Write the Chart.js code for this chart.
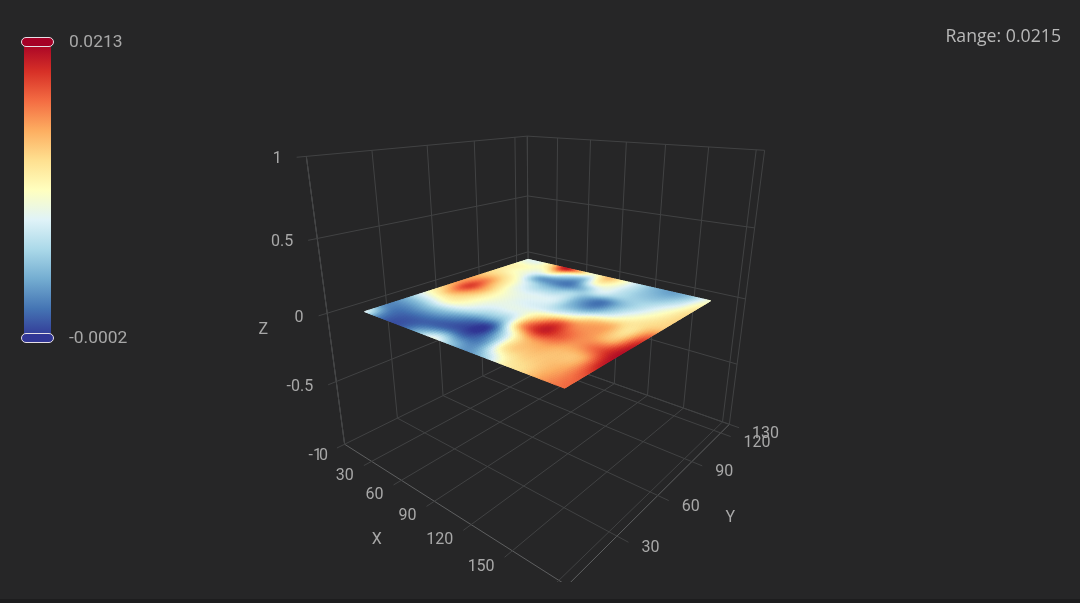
<!DOCTYPE html>
<html>
<head>
<meta charset="utf-8">
<title>Surface</title>
<script src="https://cdn.jsdelivr.net/npm/chart.js@4"></script>
<style>
    html, body { margin: 0; padding: 0; background: #262627; }
    canvas { display: block; }
</style>
</head>
<body>
<canvas id="surfaceChart" width="1080" height="603"></canvas>
<script>
/* ===============================
   DATA
================================ */
const xTicks = [0, 30, 60, 90, 120, 150, 180];
const yTicks = [0, 30, 60, 90, 120, 130];
const zTicks = [-1, -0.5, 0, 0.5, 1];
const xLabels = ["0", "30", "60", "90", "120", "150"];
const yLabels = ["30", "60", "90", "120", "130"];
const zLabels = ["-1", "-0.5", "0", "0.5", "1"];

// surface nodes, value unit is 1e-4
const surfaceX = [0, 13.5, 27, 40.5, 54, 67.5, 81, 94.5, 108, 121.5, 135, 148.5, 162];
const surfaceY = [18, 29.2, 40.4, 51.6, 62.8, 74, 85.2, 96.4, 107.6, 118.8, 130];
const surfaceZ = [
    [88, 30, 8, 14, 50, 93, 58, 32, 58, 110, 128, 155, 170],
    [30, 20, 16, 14, 12, 14, 10, 36, 118, 133, 137, 150, 178],
    [41, 45, 50, 45, 30, 12, 3, 72, 136, 150, 141, 145, 200],
    [88, 97, 106, 92, 72, 58, 66, 157, 197, 178, 158, 175, 207],
    [127, 149, 131, 106, 90, 88, 93, 136, 180, 162, 154, 140, 200],
    [153, 186, 149, 110, 93, 84, 80, 75, 97, 136, 146, 123, 175],
    [149, 165, 131, 97, 84, 84, 80, 45, 35, 70, 106, 123, 136],
    [131, 131, 110, 80, 58, 56, 67, 40, 20, 50, 80, 110, 131],
    [118, 106, 88, 40, 28, 22, 50, 80, 63, 58, 67, 95, 127],
    [110, 106, 97, 116, 66, 45, 106, 95, 69, 52, 50, 73, 116],
    [88, 90, 131, 202, 149, 99, 140, 106, 69, 45, 37, 56, 99]
];
// the sheet floats a little under the z = 0 grid line
const surfaceLevel = -0.07;

const valueMin = -0.0002;
const valueMax = 0.0213;
const rangeText = "Range: 0.0215";
const colorStops = ["#313695", "#4575b4", "#74add1", "#abd9e9", "#e0f3f8", "#ffffbf",
    "#fee090", "#fdae61", "#f46d43", "#d73027", "#a50026"];

/* ===============================
   3D BOX -> SCREEN
================================ */
const xMax = 185, yMax = 130;
// box corners as seen in the picture: [X, Y, Z, screenX, screenY]
const anchors = [
    [0, 0, -1, 345, 445],
    [0, 0, 1, 306, 156],
    [0, yMax, 1, 528, 136],
    [0, yMax, 0, 528, 253],
    [xMax, yMax, 1, 764, 150],
    [xMax, yMax, -1, 730, 425],
    [0, yMax, -1, 528, 352],
    [xMax, 0, -1, 567, 585]
];

function solveCamera() {
    const A = [], b = [];
    anchors.forEach(([x, y, z, sx, sy]) => {
        const u = [x / xMax, y / yMax, z, 1];
        sx /= 1000; sy /= 1000;
        A.push([...u, 0, 0, 0, 0, -sx * u[0], -sx * u[1], -sx * u[2]]); b.push(sx);
        A.push([0, 0, 0, 0, ...u, -sy * u[0], -sy * u[1], -sy * u[2]]); b.push(sy);
    });
    // normal equations
    const M = [];
    for (let i = 0; i < 11; i++) {
        M.push(new Array(12).fill(0));
        for (let j = 0; j < 11; j++) A.forEach(r => { M[i][j] += r[i] * r[j]; });
        A.forEach((r, k) => { M[i][11] += r[i] * b[k]; });
    }
    for (let i = 0; i < 11; i++) {
        let p = i;
        for (let k = i + 1; k < 11; k++) if (Math.abs(M[k][i]) > Math.abs(M[p][i])) p = k;
        [M[i], M[p]] = [M[p], M[i]];
        for (let k = 0; k < 11; k++) {
            if (k === i) continue;
            const f = M[k][i] / M[i][i];
            for (let j = i; j < 12; j++) M[k][j] -= f * M[i][j];
        }
    }
    return M.map((r, i) => r[11] / r[i]);
}

const cam = solveCamera();

function project(x, y, z) {
    const u = x / xMax, v = y / yMax;
    const w = cam[8] * u + cam[9] * v + cam[10] * z + 1;
    return {
        x: 1000 * (cam[0] * u + cam[1] * v + cam[2] * z + cam[3]) / w,
        y: 1000 * (cam[4] * u + cam[5] * v + cam[6] * z + cam[7]) / w
    };
}

/* ===============================
   LINES
================================ */
const gridColor = "#414243";
const axisColor = "#5f6061";
const tickX = -4, tickY = 7;
const datasets = [];

function addLine(from, to, color) {
    datasets.push({
        data: [project(...from), project(...to)],
        showLine: true,
        borderColor: color,
        borderWidth: 1,
        pointRadius: 0
    });
}

// floor
xTicks.forEach(x => { if (x > 0) addLine([x, tickX, -1], [x, yMax, -1], gridColor); });
yTicks.forEach(y => { if (y > 0) addLine([0, y, -1], [xMax + tickY, y, -1], gridColor); });
// left wall and right wall
yTicks.forEach(y => addLine([0, y, -1], [0, y, 1], gridColor));
xTicks.forEach(x => addLine([x, yMax, -1], [x, yMax, 1], gridColor));
addLine([xMax, yMax, -1], [xMax, yMax, 1], gridColor);
zTicks.forEach(z => {
    addLine([0, tickX, z], [0, yMax, z], gridColor);
    addLine([0, yMax, z], [xMax, yMax, z], gridColor);
});
// axes
addLine([0, 0, -1], [xMax, 0, -1], axisColor);
addLine([xMax, 0, -1], [xMax, yMax, -1], axisColor);
addLine([0, 0, -1], [0, 0, 1], axisColor);

// surface nodes as a real dataset, the plugin shades between them
const surfaceNodes = [];
surfaceY.forEach((y, j) => surfaceX.forEach((x, i) => {
    surfaceNodes.push(project(x, y, surfaceLevel + surfaceZ[j][i] / 1e4));
}));
datasets.push({ label: "surface", data: surfaceNodes, pointRadius: 0, showLine: false });

/* ===============================
   HELPERS
================================ */
function hexToRgb(hex) {
    return [1, 3, 5].map(i => parseInt(hex.substr(i, 2), 16));
}

const stopsRgb = colorStops.map(hexToRgb);

function colorFor(value) {
    const t = Math.max(0, Math.min(1, (value - valueMin) / (valueMax - valueMin))) * (stopsRgb.length - 1);
    const i = Math.min(Math.floor(t), stopsRgb.length - 2);
    const f = t - i;
    const c = stopsRgb[i].map((a, k) => Math.round(a + (stopsRgb[i + 1][k] - a) * f));
    return `rgb(${c[0]},${c[1]},${c[2]})`;
}

function catmull(a, b, c, d, t) {
    return b + 0.5 * t * (c - a + t * (2 * a - 5 * b + 4 * c - d + t * (3 * (b - c) + d - a)));
}

function sampleSurface(fi, fj) {
    const rows = surfaceZ.length, cols = surfaceX.length;
    const i = Math.min(Math.floor(fi), cols - 2), j = Math.min(Math.floor(fj), rows - 2);
    const at = (c, r) => surfaceZ[Math.max(0, Math.min(rows - 1, r))][Math.max(0, Math.min(cols - 1, c))];
    const line = r => catmull(at(i - 1, r), at(i, r), at(i + 1, r), at(i + 2, r), fi - i);
    return catmull(line(j - 1), line(j), line(j + 1), line(j + 2), fj - j) / 1e4;
}

function nodeCoord(list, f) {
    const i = Math.min(Math.floor(f), list.length - 2);
    return list[i] + (list[i + 1] - list[i]) * (f - i);
}

/* ===============================
   PLUGINS
================================ */
const surfacePlugin = {
    id: "surfacePlugin",
    afterDatasetsDraw(chart) {
        const ctx = chart.ctx, sx = chart.scales.x, sy = chart.scales.y;
        const sub = 10;
        const cols = (surfaceX.length - 1) * sub, rows = (surfaceY.length - 1) * sub;
        const toPixel = (c, r) => {
            const p = project(nodeCoord(surfaceX, c / sub), nodeCoord(surfaceY, r / sub), surfaceLevel);
            return [sx.getPixelForValue(p.x), sy.getPixelForValue(p.y)];
        };
        ctx.save();
        ctx.lineWidth = 1;
        for (let r = 0; r < rows; r++) {
            for (let c = 0; c < cols; c++) {
                const color = colorFor(sampleSurface((c + 0.5) / sub, (r + 0.5) / sub));
                ctx.fillStyle = color;
                ctx.strokeStyle = color;
                ctx.beginPath();
                ctx.moveTo(...toPixel(c, r));
                ctx.lineTo(...toPixel(c + 1, r));
                ctx.lineTo(...toPixel(c + 1, r + 1));
                ctx.lineTo(...toPixel(c, r + 1));
                ctx.closePath();
                ctx.fill();
                ctx.stroke();
            }
        }
        ctx.restore();
    }
};

const labelPlugin = {
    id: "labelPlugin",
    beforeDraw(chart) {
        const ctx = chart.ctx;
        ctx.save();
        ctx.fillStyle = "#262627";
        ctx.fillRect(0, 0, chart.width, chart.height);
        ctx.fillStyle = "#1d1d1e";
        ctx.fillRect(0, 599, chart.width, 4);
        ctx.restore();
    },
    afterDraw(chart) {
        const ctx = chart.ctx;
        ctx.save();
        ctx.font = "16px Roboto";
        ctx.fillStyle = "#a8a8a8";
        ctx.textBaseline = "middle";

        ctx.textAlign = "right";
        xLabels.forEach((t, i) => {
            const p = project(xTicks[i], tickX, -1);
            if (i === 0) ctx.fillText(t, p.x - 9, p.y + 8);
            else ctx.fillText(t, p.x - 10, p.y + 10);
        });
        zLabels.forEach((t, i) => {
            const p = project(0, tickX, zTicks[i]);
            ctx.fillText(t, p.x - 15, p.y + (i === 0 ? 8 : 2));
        });
        ctx.textAlign = "left";
        yLabels.forEach((t, i) => {
            const p = project(xMax + tickY, yTicks[i + 1], -1);
            ctx.fillText(t, p.x + 13, p.y + 6);
        });

        ctx.textAlign = "center";
        const name = (t, p, dx, dy) => ctx.fillText(t, p.x + dx, p.y + dy);
        name("X", project(92, 0, -1), -60, 37);
        name("Y", project(xMax, 62, -1), 70, 25);
        name("Z", project(0, 0, 0), -64, 17);

        // visual map
        const barX = 24, barW = 27, barTop = 42, barBottom = 338;
        const grad = ctx.createLinearGradient(0, barBottom, 0, barTop);
        colorStops.forEach((c, i) => grad.addColorStop(i / (colorStops.length - 1), c));
        ctx.fillStyle = grad;
        ctx.fillRect(barX, barTop, barW, barBottom - barTop);

        [[barTop, colorStops[10]], [barBottom, colorStops[0]]].forEach(([y, fill]) => {
            ctx.beginPath();
            ctx.roundRect(21.5, y - 4.5, 32, 9, 4.5);
            ctx.fillStyle = fill;
            ctx.fill();
            ctx.strokeStyle = "#e6dfe6";
            ctx.lineWidth = 1;
            ctx.stroke();
        });

        ctx.font = "17.4px Roboto";
        ctx.fillStyle = "#a8a8a8";
        ctx.textAlign = "left";
        ctx.fillText(valueMax.toFixed(4), 69, barTop + 1);
        ctx.fillText(valueMin.toFixed(4), 69, barBottom + 1);

        ctx.font = "17.7px 'Open Sans'";
        ctx.fillStyle = "#b8b8b8";
        ctx.textAlign = "right";
        ctx.fillText(rangeText, 1061, 37);
        ctx.restore();
    }
};

/* ===============================
   CHART
================================ */
document.addEventListener("DOMContentLoaded", () => {
    const ctx = document.getElementById("surfaceChart").getContext("2d");
    new Chart(ctx, {
        type: "scatter",
        data: { datasets },
        plugins: [labelPlugin, surfacePlugin],
        options: {
            responsive: false,
            animation: false,
            layout: { padding: { left: 0, right: 0, top: 0, bottom: 21 } },
            plugins: { legend: { display: false }, tooltip: { enabled: false } },
            scales: {
                x: { type: "linear", min: 0, max: 1080, display: false },
                y: { type: "linear", min: 0, max: 582, reverse: true, display: false }
            }
        }
    });
});
</script>
</body>
</html>
